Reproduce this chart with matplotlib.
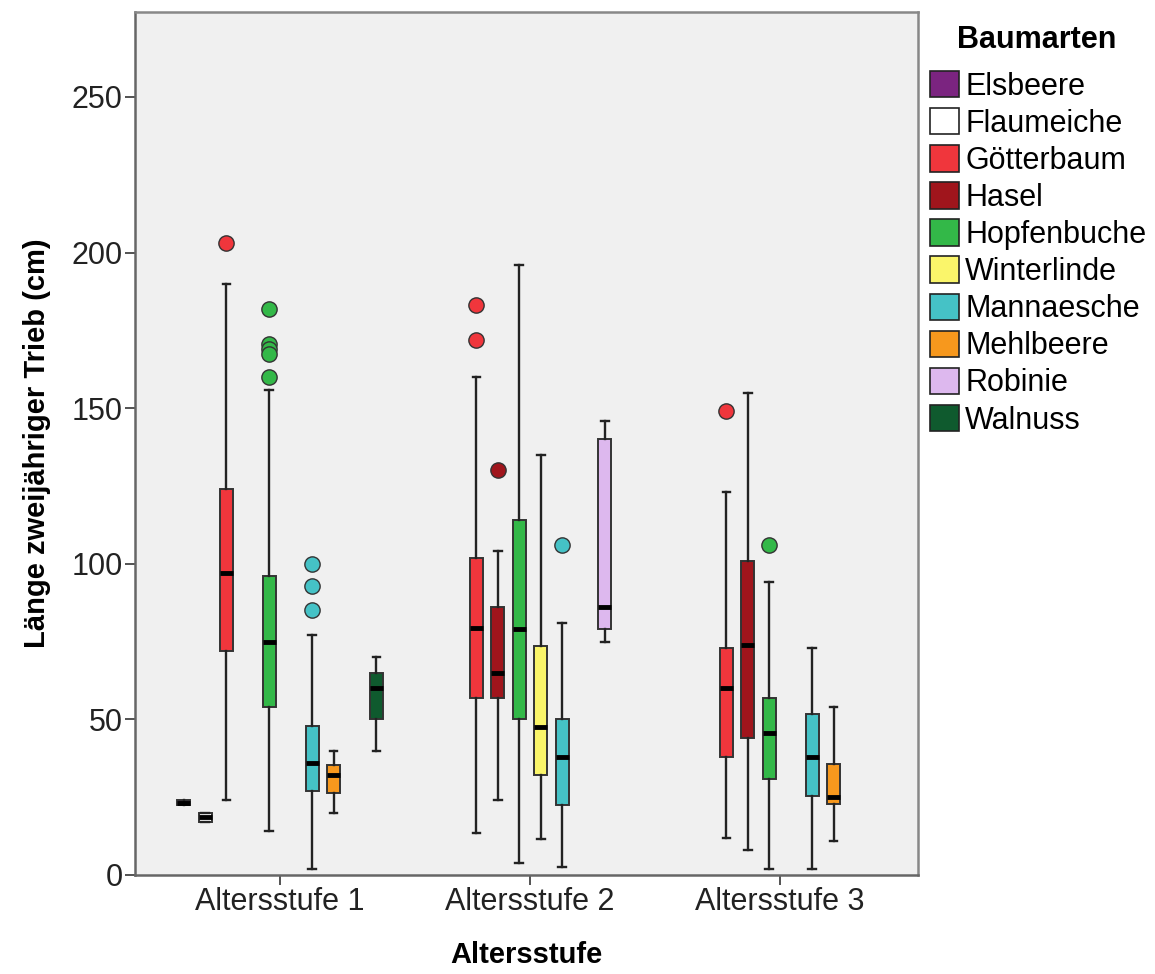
import matplotlib
matplotlib.use("Agg")
import matplotlib.pyplot as plt
from matplotlib.patches import Patch

plt.rcParams['font.family'] = ['Liberation Sans', 'DejaVu Sans']

groups = ["Altersstufe 1", "Altersstufe 2", "Altersstufe 3"]
species = ["Elsbeere", "Flaumeiche", "Götterbaum", "Hasel", "Hopfenbuche",
           "Winterlinde", "Mannaesche", "Mehlbeere", "Robinie", "Walnuss"]
colors = ["#7B2480", "#FFFFFF", "#F0363C", "#A0151C", "#33B848",
          "#FAF56A", "#45C2C6", "#F7981D", "#DDB8EE", "#0F5A2E"]

# per group, per species (None = species not present)
whislo = [
    [23, 17, 24, None, 14, None, 2, 20, None, 40],
    [None, None, 13.5, 24, 4, 11.5, 2.6, None, 75, None],
    [None, None, 12, 8, 2, None, 2, 11, None, None],
]
q1 = [
    [22.5, 17, 72, None, 54, None, 27, 26.5, None, 50],
    [None, None, 57, 57, 50, 32, 22.6, None, 79, None],
    [None, None, 38, 44, 31, None, 25.5, 22.7, None, None],
]
med = [
    [23, 18.5, 97, None, 75, None, 36, 32, None, 60],
    [None, None, 79.5, 65, 79, 47.5, 38, None, 86, None],
    [None, None, 60, 74, 45.5, None, 38, 25.2, None, None],
]
q3 = [
    [24, 20, 124, None, 96, None, 48, 35.5, None, 65],
    [None, None, 102, 86, 114, 73.5, 50, None, 140, None],
    [None, None, 73, 101, 57, None, 51.6, 35.7, None, None],
]
whishi = [
    [23, 20, 190, None, 156, None, 77, 40, None, 70],
    [None, None, 160, 104, 196, 135, 81, None, 146, None],
    [None, None, 123, 155, 94, None, 73, 54, None, None],
]
fliers = [
    [[], [], [203], [], [182, 170.5, 169, 167.5, 160], [], [100, 93, 85], [], [], []],
    [[], [], [183, 172], [130], [], [], [106], [], [], []],
    [[], [], [149], [], [106], [], [], [], [], []],
]

fig = plt.figure(figsize=(11.55, 9.74), dpi=100)
ax = fig.add_axes([135/1155, 1-875/974, (918-135)/1155, (875-12)/974])
ax.set_facecolor("#F0F0F0")

step = 0.0857
width = 0.052
n = len(species)
for g in range(len(groups)):
    for s in range(n):
        if med[g][s] is None:
            continue
        pos = g + (s - (n - 1) / 2) * step
        st = dict(whislo=whislo[g][s], q1=q1[g][s], med=med[g][s],
                  q3=q3[g][s], whishi=whishi[g][s], fliers=fliers[g][s])
        ax.bxp([st], positions=[pos], widths=width, patch_artist=True,
               showfliers=True, manage_ticks=False,
               boxprops=dict(facecolor=colors[s], edgecolor="#333333", linewidth=1.4),
               medianprops=dict(color="black", linewidth=3.5, solid_capstyle="butt"),
               whiskerprops=dict(color="#222222", linewidth=1.7),
               capprops=dict(color="#222222", linewidth=1.7),
               capwidths=width * 0.6,
               flierprops=dict(marker="o", markerfacecolor=colors[s],
                               markeredgecolor="#333333", markersize=11,
                               markeredgewidth=1.0))

ax.set_xlim(-0.58, 2.552)
ax.set_ylim(0, 277.3)
ax.set_xticks(range(len(groups)))
ax.set_xticklabels(groups)
ax.set_yticks([0, 50, 100, 150, 200, 250])
ax.tick_params(axis="both", labelsize=22, colors="#444444", length=7, width=1.3,
               labelcolor="#222222", pad=2)
for sp in ax.spines.values():
    sp.set_color("#666666")
    sp.set_linewidth(1.8)
ax.spines["top"].set_color("#888888")
ax.spines["right"].set_color("#888888")

ax.set_xlabel("Altersstufe", fontsize=21, fontweight="bold")
ax.set_ylabel("Länge zweijähriger Trieb (cm)", fontsize=21, fontweight="bold")
ax.yaxis.set_label_coords(-0.107, 0.5)
ax.xaxis.set_label_coords(0.5, -0.076)

fig.text(1037/1155, 1-40/974, "Baumarten", fontsize=22, fontweight="bold",
         ha="center", va="center")
handles = [Patch(facecolor=c, edgecolor="#222222", linewidth=1.2) for c in colors]
leg = fig.legend(handles, species, loc="upper left",
                 bbox_to_anchor=(930/1155, 1-71/974), frameon=False,
                 fontsize=22,
                 handlelength=0.95, handleheight=0.95, handletextpad=0.2,
                 labelspacing=0.21, borderaxespad=0, borderpad=0)

fig.savefig("out.png", dpi=100, facecolor="white")
